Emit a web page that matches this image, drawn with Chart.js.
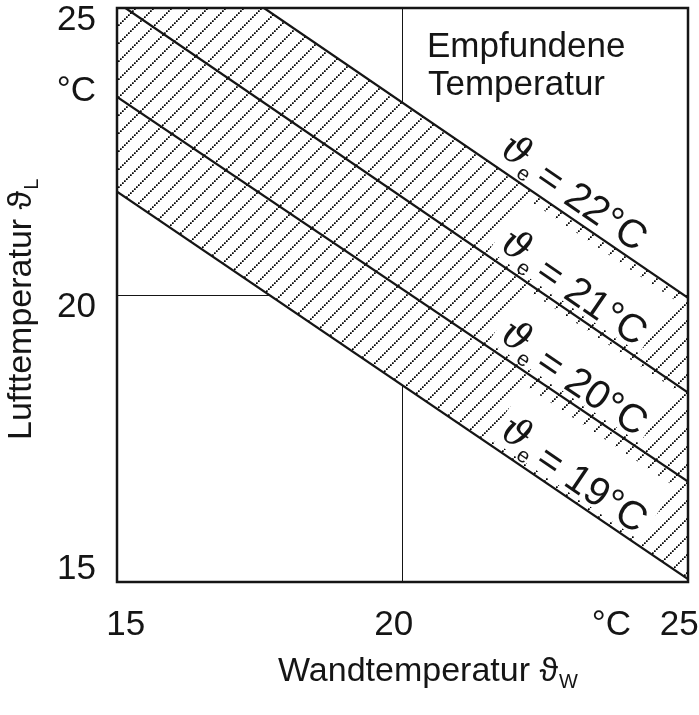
<!DOCTYPE html>
<html>
<head>
<meta charset="utf-8">
<script src="https://cdn.jsdelivr.net/npm/chart.js@4"></script>
<style>
  body { margin: 0; background: #fff; }
  #wrap { width: 699px; height: 715px; }
</style>
</head>
<body>
<div id="wrap"><canvas id="chart"></canvas></div>
<script>
// wall temperature at both ends of every line
let wallTemps = [15, 25];
// air temperature at those two wall temperatures, one line per felt temperature
let felt22 = [26.75, 19.95];
let felt21 = [25.1, 18.3];
let felt20 = [23.45, 16.75];
let felt19 = [21.8, 15.05];
let feltTemps = [22, 21, 20, 19];
let lineSeries = [felt22, felt21, felt20, felt19];

// ticks (the unit sits on its own tick)
let xTicks = [15, 20, 23.66, 25];
let xTickLabels = ['\u200215', '20\u2002', '°C', '25\u2002'];
let yTicks = [15, 20, 23.55, 25];
let yTickLabels = [['15', ''], ['', '20'], '°C', ['', '25']];

let labelAt = 21.55; // wall temp where the line captions start

let sans = '"Liberation Sans", Arial, sans-serif';
let ink = '#151515';

// dotted diagonal hatch on white
let tile = document.createElement('canvas');
tile.width = 18;
tile.height = 18;
let tc = tile.getContext('2d');
tc.fillStyle = '#fff';
tc.fillRect(0, 0, 18, 18);
tc.fillStyle = '#000';
for (let i = 0; i < 18; i += 2) {
  tc.fillRect(i, 16.3 - i, 1.7, 1.7);
}
let hatch = tc.createPattern(tile, 'repeat');

function linePoints(vals) {
  return wallTemps.map((w, i) => ({ x: w, y: vals[i] }));
}

function drawSubText(ctx, main, sub, x, y, size) {
  ctx.font = size + 'px ' + sans;
  ctx.fillText(main, x, y);
  let w = ctx.measureText(main).width;
  ctx.font = Math.round(size * 0.6) + 'px ' + sans;
  ctx.fillText(sub, x + w + 1, y + 7);
}

const decor = {
  id: 'decor',
  afterDatasetsDraw(chart) {
    const { ctx, chartArea: a, scales: { x, y } } = chart;
    ctx.save();
    ctx.strokeStyle = ink;
    ctx.lineWidth = 2.5;
    ctx.strokeRect(a.left, a.top, a.right - a.left, a.bottom - a.top);

    ctx.fillStyle = ink;
    ctx.textAlign = 'left';
    ctx.textBaseline = 'alphabetic';

    lineSeries.forEach((vals, i) => {
      const x0 = x.getPixelForValue(wallTemps[0]), y0 = y.getPixelForValue(vals[0]);
      const x1 = x.getPixelForValue(wallTemps[1]), y1 = y.getPixelForValue(vals[1]);
      const ang = Math.atan2(y1 - y0, x1 - x0);
      const px = x.getPixelForValue(labelAt);
      const py = y0 + (px - x0) * (y1 - y0) / (x1 - x0);
      ctx.save();
      ctx.translate(px, py);
      ctx.rotate(ang);

      const thetaFont = 'italic 39px "DejaVu Serif", serif';
      const subFont = '21px ' + sans;
      const mainFont = '40px ' + sans;
      const rest = '= ' + feltTemps[i] + '°C';
      ctx.font = thetaFont;
      const wT = ctx.measureText('ϑ').width;
      ctx.font = subFont;
      const wE = ctx.measureText('e').width;
      ctx.font = mainFont;
      const wR = ctx.measureText(rest).width;
      const restStart = Math.max(wT + wE + 6, 46);
      const total = restStart + wR;

      ctx.fillStyle = '#fff';
      ctx.fillRect(-6, -69, total + 12, 64);

      ctx.fillStyle = ink;
      ctx.font = thetaFont;
      ctx.fillText('ϑ', 0, -12);
      ctx.font = subFont;
      ctx.fillText('e', wT - 1, -3);
      ctx.font = mainFont;
      ctx.fillText(rest, restStart, -8);
      ctx.restore();
    });

    // note in the corner
    ctx.font = '35px ' + sans;
    ctx.fillText('Empfundene', 427, 57);
    ctx.fillText('Temperatur', 428, 95);

    // axis titles
    drawSubText(ctx, 'Wandtemperatur ϑ', 'W', 278, 681, 34);
    ctx.save();
    ctx.translate(31, 440);
    ctx.rotate(-Math.PI / 2);
    drawSubText(ctx, 'Lufttemperatur ϑ', 'L', 0, 0, 34);
    ctx.restore();

    ctx.restore();
  }
};

let datasets = lineSeries.map((vals, i) => ({
  label: 'ϑe = ' + feltTemps[i] + '°C',
  data: linePoints(vals),
  borderColor: ink,
  borderWidth: 2.3,
  pointRadius: 0,
  fill: i === 0 ? 3 : false,
  backgroundColor: i === 0 ? hatch : 'rgba(0,0,0,0)'
}));

function gridColor(ctx) {
  return ctx.tick && ctx.tick.value === 20 ? ink : 'rgba(0,0,0,0)';
}

new Chart(document.getElementById('chart'), {
  type: 'line',
  data: { datasets: datasets },
  options: {
    responsive: true,
    maintainAspectRatio: false,
    animation: false,
    layout: { padding: { top: 8, right: 11, bottom: 0, left: 0 } },
    plugins: {
      legend: { display: false },
      tooltip: { enabled: false },
      filler: { drawTime: 'beforeDatasetsDraw' }
    },
    scales: {
      x: {
        type: 'linear',
        min: 15,
        max: 25,
        afterBuildTicks(s) { s.ticks = xTicks.map(v => ({ value: v })); },
        afterFit(s) { s.paddingLeft = 0; s.paddingRight = 0; s.height = 133; },
        ticks: {
          autoSkip: false,
          maxRotation: 0,
          padding: 22,
          color: ink,
          font: { family: sans, size: 35 },
          callback: (v, i) => xTickLabels[i]
        },
        grid: { color: gridColor, lineWidth: 1, drawTicks: false },
        border: { display: false }
      },
      y: {
        type: 'linear',
        min: 15,
        max: 25,
        afterBuildTicks(s) { s.ticks = yTicks.map(v => ({ value: v })); },
        afterFit(s) { s.paddingTop = 0; s.paddingBottom = 0; s.width = 117; },
        ticks: {
          autoSkip: false,
          padding: 21,
          color: ink,
          font: { family: sans, size: 35, lineHeight: 0.7 },
          callback: (v, i) => yTickLabels[i]
        },
        grid: { color: gridColor, lineWidth: 1, drawTicks: false },
        border: { display: false }
      }
    }
  },
  plugins: [decor]
});
</script>
</body>
</html>
